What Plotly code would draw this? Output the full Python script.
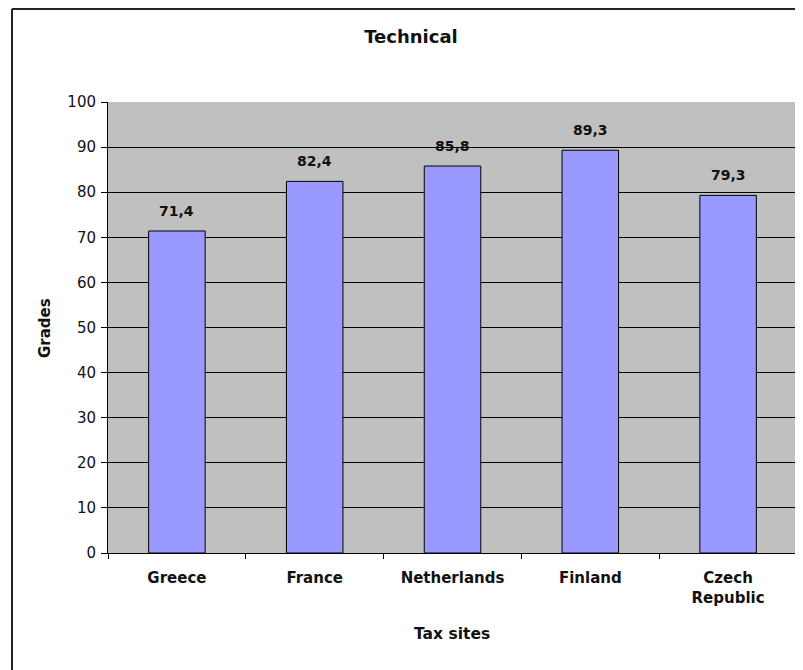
import plotly.graph_objects as go

categories = ["Greece", "France", "Netherlands", "Finland", "Czech<br>Republic"]
grades = [71.4, 82.4, 85.8, 89.3, 79.3]
y_ticks = [0, 10, 20, 30, 40, 50, 60, 70, 80, 90, 100]
labels = [f"{v:.1f}".replace(".", ",") for v in grades]

OFF = 8  # page body margin
W, H = 803 - OFF, 670 - OFF
L, R, T, B = 100, 6, 94, 117
pw, ph = W - L - R, H - T - B
FONT = "DejaVu Sans, Verdana, sans-serif"


def px(xp):
    return (xp - OFF - L) / pw


def py(yp):
    return 1 - (yp - OFF - T) / ph


fig = go.Figure()
fig.add_trace(go.Bar(
    x=categories, y=grades,
    marker=dict(color="#9999FF", line=dict(color="#000000", width=1)),
    hoverinfo="skip",
))

annotations = [
    dict(x=c, y=v, text=f"<b>{t}</b>", xref="x", yref="y", showarrow=False,
         yanchor="bottom", yshift=10, font=dict(family=FONT, size=14, color="#111111"))
    for c, v, t in zip(categories, grades, labels)
]
annotations += [
    dict(text="<b>Tax sites</b>", xref="paper", yref="paper", x=px(452), y=py(634),
         xanchor="center", yanchor="middle", showarrow=False,
         font=dict(family=FONT, size=15.5, color="#111111")),
    dict(text="<b>Grades</b>", xref="paper", yref="paper", x=px(45), y=py(328),
         xanchor="center", yanchor="middle", showarrow=False, textangle=-90,
         font=dict(family=FONT, size=15, color="#111111")),
]

shapes = [
    dict(type="line", xref="paper", yref="paper", x0=px(12), x1=px(12), y0=py(OFF + 1), y1=py(680),
         line=dict(color="#222222", width=2)),
    dict(type="line", xref="paper", yref="paper", x0=px(12), x1=px(810), y0=py(OFF + 1), y1=py(OFF + 1),
         line=dict(color="#222222", width=2)),
    dict(type="line", xref="paper", yref="paper", x0=1, x1=1, y0=0, y1=1,
         line=dict(color="#808080", width=1)),
]

fig.update_layout(
    width=W, height=H,
    margin=dict(l=L, r=R, t=T, b=B),
    paper_bgcolor="white", plot_bgcolor="#C0C0C0",
    font=dict(family=FONT, size=15, color="#111111"),
    title=dict(text="<b>Technical</b>", xref="container", x=(411 - OFF) / W, xanchor="center",
               yref="container", y=1 - (37 - OFF) / H, yanchor="middle",
               font=dict(family=FONT, size=18, color="#111111")),
    bargap=0.59,
    showlegend=False,
    shapes=shapes,
    annotations=annotations,
    xaxis=dict(
        showline=True, linecolor="#000000", linewidth=1,
        ticks="outside", ticklen=5, tickcolor="#000000", tickson="boundaries",
        tickfont=dict(family=FONT, size=15, color="#111111", weight="bold"),
        ticklabelstandoff=11,
        showgrid=False,
    ),
    yaxis=dict(
        range=[0, 100], tickvals=y_ticks,
        showline=True, linecolor="#000000", linewidth=1,
        ticks="outside", ticklen=6, tickcolor="#000000",
        tickfont=dict(family=FONT, size=15, color="#111111"),
        ticklabelstandoff=2,
        showgrid=True, gridcolor="#000000", gridwidth=1,
        zeroline=False,
    ),
)

fig.write_html("out.html")
